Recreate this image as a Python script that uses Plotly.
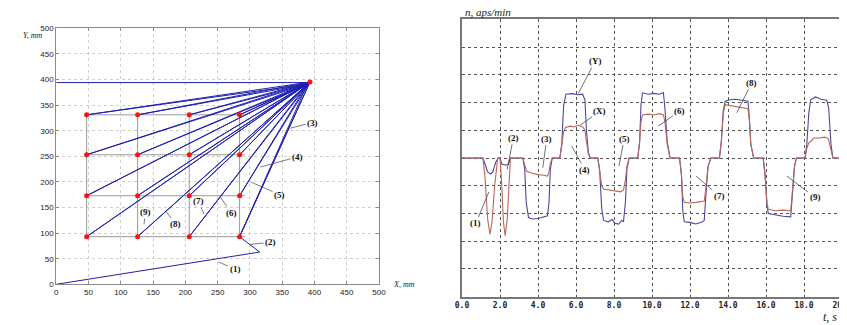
import plotly.graph_objects as go

# ---------------- Left chart data (trajectory in X-Y plane, mm) ----------------
grid_x = [47, 126, 206, 284]
grid_y = [93, 173, 253, 331]
home_x, home_y = 393, 395
home2_x, home2_y = 389, 391
approach_x = [0, 315, 284]
approach_y = [0, 63, 93]
top_line_x = [0, 393]
top_line_y = [394, 394]

left_labels = ["(1)", "(2)", "(3)", "(4)", "(5)", "(6)", "(7)", "(8)", "(9)"]
left_label_x = [277, 332, 397, 374, 346, 271, 220, 185, 138]
left_label_y = [29, 82, 316, 249, 175, 139, 162, 117, 141]
left_target_x = [251, 300, 363, 316, 301, 254, 229, 171, 136]
left_target_y = [44, 78, 305, 229, 200, 171, 137, 141, 118]

# ---------------- Right chart data (speed n vs time t) ----------------
t_y = [0, 1.1, 1.2, 1.35, 1.5, 1.62, 1.78, 1.9, 2.0, 2.1, 2.3, 2.45, 2.55, 3.2, 3.3, 3.38, 3.5, 3.7, 4.0,
       4.3, 4.5, 4.58, 4.65, 4.75, 5.15, 5.25, 5.35, 5.47, 5.8, 6.1, 6.35, 6.47, 6.55, 6.65, 6.75, 7.15,
       7.25, 7.35, 7.45, 7.7, 7.9, 8.05, 8.25, 8.4, 8.5, 8.6, 8.68, 8.8, 9.25, 9.35, 9.42, 9.5, 9.8, 10.1,
       10.4, 10.6, 10.68, 10.8, 10.95, 11.45, 11.55, 11.62, 11.7, 12.0, 12.3, 12.6, 12.75, 12.85, 12.95,
       13.1, 13.55, 13.65, 13.75, 13.85, 14.1, 14.4, 14.7, 15.05, 15.12, 15.2, 15.35, 15.85, 15.95, 16.05,
       16.12, 16.5, 16.9, 17.3, 17.38, 17.5, 17.6, 18.05, 18.15, 18.25, 18.35, 18.6, 18.9, 19.2, 19.3,
       19.42, 19.52, 20]
n_y = [0, 0, -0.2, -0.5, -0.58, -0.5, -0.15, 0, 0, -0.22, -0.26, -0.22, 0, 0, -0.4, -1.6, -2.15, -2.2, -2.18,
       -2.12, -2.08, -1.6, -0.4, 0, 0, 0.5, 1.9, 2.3, 2.32, 2.28, 2.3, 2.1, 1.0, 0.2, 0, 0,
       -0.5, -1.8, -2.25, -2.3, -2.22, -2.35, -2.38, -2.25, -2.3, -1.6, -0.4, 0, 0, 0.6, 1.9, 2.35, 2.3, 2.33,
       2.3, 2.36, 1.8, 0.6, 0, 0, -0.6, -1.9, -2.3, -2.32, -2.38, -2.32, -2.25, -1.2, -0.3,
       0, 0, 0.6, 1.7, 2.05, 2.1, 2.12, 2.08, 2.05, 1.5, 0.5, 0, 0, -0.6, -1.7,
       -2.0, -2.05, -2.1, -2.12, -1.4, -0.3, 0, 0, 0.5, 1.6, 2.1, 2.2, 2.12, 2.08, 1.8,
       0.5, 0, 0]

t_x = [0, 1.1, 1.2, 1.35, 1.47, 1.58, 1.72, 1.88, 2.0, 2.08, 2.18, 2.27, 2.38, 2.47, 2.55, 3.2, 3.3, 3.4,
       3.7, 4.0, 4.3, 4.5, 4.58, 4.65, 4.75, 5.15, 5.25, 5.35, 5.45, 5.7, 5.9, 6.1, 6.35, 6.47, 6.55, 6.65,
       6.75, 7.15, 7.25, 7.35, 7.45, 7.8, 8.1, 8.35, 8.5, 8.6, 8.68, 8.8, 9.25, 9.35, 9.42, 9.5, 9.8, 10.1,
       10.4, 10.6, 10.68, 10.8, 10.95, 11.45, 11.55, 11.62, 11.7, 12.0, 12.3, 12.6, 12.75, 12.85, 12.95,
       13.1, 13.55, 13.65, 13.75, 13.85, 14.2, 14.5, 14.8, 15.05, 15.12, 15.2, 15.35, 15.85, 15.95, 16.05,
       16.12, 16.5, 16.9, 17.3, 17.38, 17.5, 17.6, 18.05, 18.15, 18.25, 18.4, 18.5, 18.8, 19.1, 19.28,
       19.35, 19.45, 19.52, 20]
n_x = [0, 0, -0.6, -2.2, -2.75, -2.3, -1.0, 0, 0, -0.8, -2.3, -2.8, -2.2, -0.8, 0, 0, -0.3, -0.48,
       -0.55, -0.6, -0.62, -0.65, -0.5, -0.2, 0, 0, 0.45, 0.95, 1.1, 1.15, 1.12, 1.18, 1.12, 1.0, 0.6, 0.15,
       0, 0, -0.45, -1.0, -1.12, -1.16, -1.18, -1.22, -1.15, -0.8, -0.3, 0, 0, 0.6, 1.3, 1.55, 1.58, 1.55,
       1.6, 1.55, 1.3, 0.5, 0, 0, -0.6, -1.4, -1.6, -1.62, -1.6, -1.58, -1.55, -1.0, -0.3,
       0, 0, 0.6, 1.6, 1.92, 1.88, 1.85, 1.8, 1.78, 1.4, 0.5, 0, 0, -0.6, -1.6,
       -1.85, -1.9, -1.88, -1.9, -1.3, -0.3, 0, 0, 0.35, 0.55, 0.62, 0.72, 0.72, 0.75, 0.7,
       0.5, 0.1, 0, 0]

right_labels = ["(Y)", "(X)", "(1)", "(2)", "(3)", "(4)", "(5)", "(6)", "(7)", "(8)", "(9)"]
right_label_t = [7.0, 7.26, 0.72, 2.7, 4.46, 6.47, 8.54, 11.47, 13.54, 15.25, 18.58]
right_label_n = [3.49, 1.68, -2.36, 0.73, 0.7, -0.43, 0.7, 1.7, -1.37, 2.71, -1.42]
right_target_t = [6.12, 6.21, 1.42, 2.38, 4.25, 5.77, 8.26, 10.33, 12.32, 14.46, 17.09]
right_target_n = [2.32, 1.18, -1.22, -0.41, -0.35, 0.43, -0.29, 1.15, -0.65, 1.63, -0.65]

BLUE_L = "#1f1fb0"
GRAY = "#9a9a9a"

# page body adds an 8px margin around the figure
W, H, OFF = 839, 317, 8


def px_x(p):
    return (p - OFF) / W


def px_y(p):
    return 1 - (p - OFF) / H


fig = go.Figure()

# gray grid-of-points frame lines
for gy in grid_y:
    fig.add_trace(go.Scatter(x=[grid_x[0], grid_x[-1] + 8], y=[gy, gy], mode="lines",
                             line=dict(color=GRAY, width=1), xaxis="x", yaxis="y", showlegend=False,
                             hoverinfo="skip"))
for gx in grid_x:
    fig.add_trace(go.Scatter(x=[gx, gx], y=[grid_y[0], grid_y[-1]], mode="lines",
                             line=dict(color=GRAY, width=1), xaxis="x", yaxis="y", showlegend=False,
                             hoverinfo="skip"))

# trajectory
path_x = list(approach_x) + [home_x]
path_y = list(approach_y) + [home_y]
for gx in reversed(grid_x):
    for gy in grid_y:
        path_x += [gx, home2_x, home_x]
        path_y += [gy, home2_y, home_y]
fig.add_trace(go.Scatter(x=path_x, y=path_y, mode="lines", line=dict(color=BLUE_L, width=1),
                         xaxis="x", yaxis="y", showlegend=False))
fig.add_trace(go.Scatter(x=top_line_x, y=top_line_y, mode="lines", line=dict(color=BLUE_L, width=1),
                         xaxis="x", yaxis="y", showlegend=False))

# red points
px_pts = [gx for gx in grid_x for gy in grid_y] + [home_x]
py_pts = [gy for gx in grid_x for gy in grid_y] + [home_y]
fig.add_trace(go.Scatter(x=px_pts, y=py_pts, mode="markers", marker=dict(color="#ff1010", size=5),
                         xaxis="x", yaxis="y", showlegend=False))

# right chart
fig.add_trace(go.Scatter(x=t_y, y=n_y, mode="lines", line=dict(color="#4a4a9c", width=1.1),
                         xaxis="x2", yaxis="y2", showlegend=False))
fig.add_trace(go.Scatter(x=t_x, y=n_x, mode="lines", line=dict(color="#b8685a", width=1.1),
                         xaxis="x2", yaxis="y2", showlegend=False))

annotations = []
lab_font = dict(family="Liberation Serif", size=9, color="#111")
for lab, lx, ly, tx, ty in zip(left_labels, left_label_x, left_label_y, left_target_x, left_target_y):
    annotations.append(dict(text="<b>%s</b>" % lab, x=tx, y=ty, ax=lx, ay=ly, xref="x", yref="y",
                            axref="x", ayref="y", showarrow=True, arrowhead=0, arrowwidth=0.7,
                            arrowcolor="#444", font=lab_font, standoff=0))
for lab, lx, ly, tx, ty in zip(right_labels, right_label_t, right_label_n, right_target_t, right_target_n):
    annotations.append(dict(text="<b>%s</b>" % lab, x=tx, y=ty, ax=lx, ay=ly, xref="x2", yref="y2",
                            axref="x2", ayref="y2", showarrow=True, arrowhead=0, arrowwidth=0.7,
                            arrowcolor="#333", font=lab_font, standoff=0))

ital = dict(family="Liberation Serif", color="#222")
annotations += [
    dict(text="<i>Y, mm</i>", x=px_x(21), y=px_y(29), xref="paper", yref="paper", showarrow=False,
         font=dict(size=8, **ital)),
    dict(text="<i>X, mm</i>", x=px_x(403.5), y=px_y(290.7), xref="paper", yref="paper", showarrow=False,
         font=dict(size=8, **ital)),
    dict(text="<i>n, aps/min</i>", x=px_x(464), y=px_y(19.5), xref="paper", yref="paper", showarrow=False,
         xanchor="left", yanchor="bottom", borderpad=0, font=dict(size=11, **ital)),
    dict(text="<i>t, s</i>", x=px_x(838), y=px_y(325), xref="paper", yref="paper", showarrow=False,
         yanchor="bottom", borderpad=0, font=dict(size=12, **ital)),
]

left_axis = dict(range=[0, 500], dtick=50, showgrid=True, gridcolor="#cfcfcf", griddash="dot",
                 gridwidth=1, showline=True, linecolor="#8a8a8a", linewidth=1, mirror="ticks",
                 ticks="inside", ticklen=3, tickcolor="#8a8a8a", zeroline=False, automargin=False,
                 tickfont=dict(family="Liberation Sans", size=8, color="#222"))

fig.update_layout(
    width=W, height=H, margin=dict(l=0, r=0, t=0, b=0, autoexpand=False),
    paper_bgcolor="white", plot_bgcolor="white",
    xaxis=dict(domain=[px_x(56.3), px_x(379)], anchor="y", **left_axis),
    yaxis=dict(domain=[px_y(284.3), px_y(28.3)], anchor="x", **left_axis),
    xaxis2=dict(domain=[px_x(462), px_x(842)], anchor="y2", range=[0, 20], dtick=2, tickformat=".1f",
                showgrid=True, gridcolor="#555", griddash="dot", gridwidth=1, showline=True,
                linecolor="#777", linewidth=1.5, mirror=True, ticks="", zeroline=False, automargin=False,
                ticklabeloverflow="allow",
                tickfont=dict(family="DejaVu Sans Mono", size=8, color="#222", weight="bold")),
    yaxis2=dict(domain=[px_y(296.7), px_y(19.3)], anchor="x2", range=[-5, 5], dtick=1, showticklabels=False,
                showgrid=True, gridcolor="#555", griddash="dot", gridwidth=1, showline=True,
                linecolor="#777", linewidth=1.5, mirror=True, ticks="", zeroline=False, automargin=False),
    annotations=annotations,
)

fig.write_html("out.html")
